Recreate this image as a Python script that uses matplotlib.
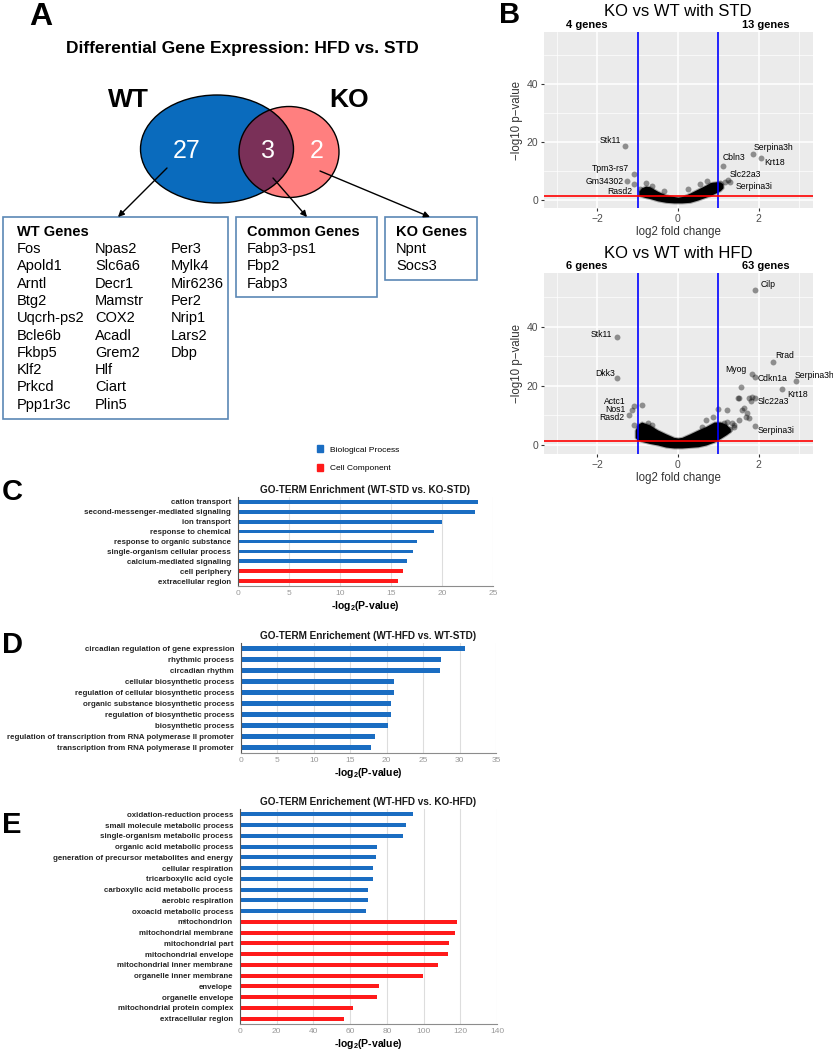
import matplotlib
matplotlib.use('Agg')
import matplotlib.pyplot as plt
from matplotlib.patches import Ellipse, Rectangle, Patch
import numpy as np

W, H = 833, 1050
plt.rcParams['font.family'] = ['Liberation Sans', 'DejaVu Sans']
plt.rcParams['mathtext.fontset'] = 'custom'
plt.rcParams['mathtext.rm'] = 'Liberation Sans'
plt.rcParams['mathtext.bf'] = 'Liberation Sans:bold'

# ---------------- data ----------------
# panel A: venn counts and gene lists
wt_only_n, common_n, ko_only_n = 27, 3, 2
wt_genes = ['Fos', 'Apold1', 'Arntl', 'Btg2', 'Uqcrh-ps2', 'Bcle6b', 'Fkbp5', 'Klf2', 'Prkcd', 'Ppp1r3c',
            'Npas2', 'Slc6a6', 'Decr1', 'Mamstr', 'COX2', 'Acadl', 'Grem2', 'Hlf', 'Ciart', 'Plin5',
            'Per3', 'Mylk4', 'Mir6236', 'Per2', 'Nrip1', 'Lars2', 'Dbp']
common_genes = ['Fabp3-ps1', 'Fbp2', 'Fabp3']
ko_genes = ['Npnt', 'Socs3']

# panel B: volcano plots (labelled genes, extra visible points, dense cloud outline)
std_n_down, std_n_up = 4, 13
std_names = ['Stk11', 'Tpm3-rs7', 'Gm34302', 'Rasd2', 'Cbln3', 'Serpina3h', 'Krt18', 'Slc22a3', 'Serpina3i']
std_lfc = [-1.30, -1.10, -1.25, -0.93, 1.12, 1.85, 2.05, 1.25, 1.30]
std_p = [18.6, 9.0, 6.5, 3.8, 11.8, 15.8, 14.4, 6.9, 6.1]
std_extra_lfc = [-1.08, -0.78, -0.63, 0.25, 0.55, 0.72, 0.88, 1.05, 1.18, -0.35]
std_extra_p = [5.5, 5.8, 4.8, 3.8, 5.5, 6.6, 5.2, 5.9, 6.2, 3.0]
std_cloud_x = [-0.97, -0.9, -0.8, -0.7, -0.5, -0.3, -0.1, 0.0, 0.1, 0.3, 0.5, 0.7, 0.8, 0.95, 1.05, 1.12]
std_cloud_top = [3.0, 4.2, 4.8, 4.6, 3.0, 1.8, 1.2, 1.0, 1.2, 2.4, 3.8, 5.2, 6.0, 6.3, 6.2, 5.5]
std_cloud_bot = [1.6, 1.2, 0.8, 0.5, -0.3, -0.8, -1.0, -1.0, -1.0, -0.8, 0.0, 1.0, 1.5, 2.5, 3.2, 4.2]

hfd_n_down, hfd_n_up = 6, 63
hfd_names = ['Cilp', 'Stk11', 'Dkk3', 'Actc1', 'Nos1', 'Rasd2', 'Rrad', 'Myog', 'Cdkn1a',
             'Serpina3h', 'Krt18', 'Slc22a3', 'Serpina3i']
hfd_lfc = [1.91, -1.52, -1.50, -1.08, -1.13, -1.20, 2.35, 1.84, 1.91, 2.94, 2.57, 1.91, 1.91]
hfd_p = [52.5, 36.6, 22.7, 13.2, 11.9, 10.2, 28.1, 24.1, 23.1, 21.7, 19.0, 16.0, 6.4]
hfd_extra_lfc = [-0.88, -1.10, -0.74, -0.64, 1.57, 1.52, 1.50, 1.84, 1.76, 1.81, 1.00, 1.22, 1.64,
                 1.60, 1.72, 1.76, 1.69, 1.22, 1.40, 1.52, 0.86, 0.70, 0.95, 1.15, 1.35, 1.38, 1.30, 0.60]
hfd_extra_p = [13.6, 6.8, 7.5, 6.8, 19.7, 16.0, 16.1, 16.3, 16.0, 15.0, 12.2, 11.9, 12.5,
               11.9, 10.8, 9.2, 9.5, 7.8, 6.8, 8.5, 9.5, 8.5, 5.8, 7.5, 7.5, 6.0, 5.5, 6.0]
hfd_cloud_x = [-1.06, -1.0, -0.9, -0.7, -0.5, -0.3, -0.1, 0.0, 0.1, 0.3, 0.5, 0.7, 0.9, 1.05, 1.2, 1.3]
hfd_cloud_top = [5.0, 7.0, 7.8, 6.8, 5.1, 3.8, 2.6, 2.4, 2.6, 3.8, 5.1, 6.3, 7.8, 7.8, 7.0, 5.5]
hfd_cloud_bot = [2.5, 1.8, 1.2, 0.5, 0.0, -0.7, -1.0, -1.0, -1.0, -0.8, -0.6, 0.0, 1.0, 2.2, 3.5, 4.5]

# panels C-E: GO terms
c_terms = ['cation transport', 'second-messenger-mediated signaling', 'ion transport',
           'response to chemical', 'response to organic substance', 'single-organism cellular process',
           'calcium-mediated signaling', 'cell periphery', 'extracellular region']
c_vals = [23.5, 23.2, 20.0, 19.2, 17.5, 17.2, 16.6, 16.2, 15.7]
c_kind = ['BP'] * 7 + ['CC'] * 2

d_terms = ['circadian regulation of gene expression', 'rhythmic process', 'circadian rhythm',
           'cellular biosynthetic process', 'regulation of cellular biosynthetic process',
           'organic substance biosynthetic process', 'regulation of biosynthetic process',
           'biosynthetic process', 'regulation of transcription from RNA polymerase II promoter',
           'transcription from RNA polymerase II promoter']
d_vals = [30.7, 27.4, 27.3, 21.0, 21.0, 20.6, 20.6, 20.2, 18.4, 17.8]
d_kind = ['BP'] * 10

e_terms = ['oxidation-reduction process', 'small molecule metabolic process',
           'single-organism metabolic process', 'organic acid metabolic process',
           'generation of precursor metabolites and energy', 'cellular respiration',
           'tricarboxylic acid cycle', 'carboxylic acid metabolic process', 'aerobic respiration',
           'oxoacid metabolic process', 'mitochondrion', 'mitochondrial membrane', 'mitochondrial part',
           'mitochondrial envelope', 'mitochondrial inner membrane', 'organelle inner membrane',
           'envelope', 'organelle envelope', 'mitochondrial protein complex', 'extracellular region']
e_vals = [94.5, 90.5, 88.7, 74.5, 74.2, 72.4, 72.2, 69.5, 69.5, 68.5,
          118.2, 117.0, 113.6, 113.3, 107.6, 99.5, 75.6, 74.5, 61.5, 56.4]
e_kind = ['BP'] * 10 + ['CC'] * 10

go_colors = {'BP': '#1a6dc2', 'CC': '#ff1a1a'}


def px_rect(x0, y0, x1, y1):
    return [x0 / W, 1 - y1 / H, (x1 - x0) / W, (y1 - y0) / H]


fig = plt.figure(figsize=(W / 100, H / 100), dpi=100)

# ---------------- panel A ----------------
axA = fig.add_axes([0, 1 - 440 / H, 500 / W, 440 / H])
axA.set_xlim(0, 500)
axA.set_ylim(440, 0)
axA.axis('off')
axA.text(29, 2, 'A', fontsize=23, fontweight='bold', va='top')
axA.text(242, 48, 'Differential Gene Expression: HFD vs. STD', fontsize=12.5, fontweight='bold',
         ha='center', va='center')
wt_e = Ellipse((217, 149), 153, 108, facecolor='#0a6bbd', edgecolor='none')
ko_e = Ellipse((289, 152), 100, 91, facecolor='#ff7f7f', edgecolor='none')
axA.add_patch(wt_e)
axA.add_patch(ko_e)
ov = Ellipse((289, 152), 100, 91, facecolor='#7a3058', edgecolor='none')
axA.add_patch(ov)
ov.set_clip_path(wt_e)
axA.add_patch(Ellipse((217, 149), 153, 108, fill=False, edgecolor='black', lw=1))
axA.add_patch(Ellipse((289, 152), 100, 91, fill=False, edgecolor='black', lw=1))
axA.text(128, 100, 'WT', fontsize=19, fontweight='bold', ha='center', va='center')
axA.text(349, 100, 'KO', fontsize=19, fontweight='bold', ha='center', va='center')
for xx, n in zip([187, 268, 317], [wt_only_n, common_n, ko_only_n]):
    axA.text(xx, 151, str(n), fontsize=18, color='white', ha='center', va='center')

arrow = dict(arrowstyle='-|>', color='black', lw=1, mutation_scale=9, shrinkA=0, shrinkB=0)
axA.annotate('', xy=(118, 217), xytext=(167, 168), arrowprops=arrow)
axA.annotate('', xy=(307, 217), xytext=(273, 178), arrowprops=arrow)
axA.annotate('', xy=(430, 217), xytext=(320, 171), arrowprops=arrow)

box_c = '#5b87b5'
axA.add_patch(Rectangle((3, 217), 225, 202, fill=False, edgecolor=box_c, lw=1.2))
axA.add_patch(Rectangle((236, 217), 141, 80, fill=False, edgecolor=box_c, lw=1.2))
axA.add_patch(Rectangle((385, 217), 92, 63, fill=False, edgecolor=box_c, lw=1.2))

row_h = 17.3
axA.text(17, 232, 'WT Genes', fontsize=10.5, fontweight='bold', va='center')
for i, g in enumerate(wt_genes):
    col, row = divmod(i, 10)
    axA.text([17, 95, 171][col], 249 + row * row_h, g, fontsize=10.5, va='center')
axA.text(247, 232, 'Common Genes', fontsize=10.5, fontweight='bold', va='center')
for i, g in enumerate(common_genes):
    axA.text(247, 249 + i * row_h, g, fontsize=10.5, va='center')
axA.text(396, 232, 'KO Genes', fontsize=10.5, fontweight='bold', va='center')
for i, g in enumerate(ko_genes):
    axA.text(396, 249 + i * row_h, g, fontsize=10.5, va='center')

# ---------------- panel B ----------------
fig.text(499 / W, 1 - 1 / H, 'B', fontsize=21, fontweight='bold', va='top')

std_offsets = [(-3, 4, 'right'), (-3, 4, 'right'), (-3, 0, 'right'), (-6, -2, 'right'),
               (0, 6, 'left'), (1, 5, 'left'), (3, -3, 'left'), (1, 4, 'left'), (4, -3, 'left')]
hfd_offsets = [(4, 4, 'left'), (-3, 2, 'right'), (-2, 3, 'right'), (-6, 3, 'right'), (-5, 0, 'right'),
               (-4, -2, 'right'), (2, 5, 'left'), (-4, 3, 'right'), (2, -1, 'left'), (-1, 4, 'left'),
               (4, -4, 'left'), (2, -2.5, 'left'), (2, -3, 'left')]


def volcano(rect, ylim, title, title_y, n_down, n_up, cx, ctop, cbot, ex, ey,
            names, lx, ly, offsets):
    ax = fig.add_axes(px_rect(*rect))
    ax.set_facecolor('#EBEBEB')
    for v in [-3, -1, 1, 3]:
        ax.axvline(v, color='white', lw=0.5, zorder=0)
    for v in [10, 30, 50]:
        ax.axhline(v, color='white', lw=0.5, zorder=0)
    for v in [-2, 0, 2]:
        ax.axvline(v, color='white', lw=1.1, zorder=0)
    for v in [0, 20, 40]:
        ax.axhline(v, color='white', lw=1.1, zorder=0)
    # dense cloud of non-significant genes, with a soft translucent rim
    ax.fill_between(cx, cbot, ctop, facecolor='black', edgecolor=(0, 0, 0, 0.3), lw=1.5, zorder=2)
    ax.scatter(ex, ey, s=18, color='black', alpha=0.4, lw=0, zorder=2)
    ax.scatter(lx, ly, s=18, color='black', alpha=0.4, lw=0, zorder=2)
    for n, x, y, (dx, dy, ha) in zip(names, lx, ly, offsets):
        ax.annotate(n, (x, y), xytext=(dx, dy), textcoords='offset points', fontsize=6.2,
                    ha=ha, va='center', annotation_clip=False, zorder=4)
    ax.axvline(-1, color='blue', lw=1.2, zorder=3)
    ax.axvline(1, color='blue', lw=1.2, zorder=3)
    ax.axhline(-np.log10(0.05), color='red', lw=1.2, zorder=3)
    ax.set_xlim(-3.32, 3.35)
    ax.set_ylim(*ylim)
    ax.set_xticks([-2, 0, 2], ['\u22122', '0', '2'])
    ax.set_yticks([0, 20, 40])
    for s in ax.spines.values():
        s.set_visible(False)
    ax.tick_params(length=2.5, width=0.8, color='#333333', labelsize=7.5, labelcolor='#4d4d4d', pad=1.5)
    ax.set_xlabel('log2 fold change', fontsize=8.3, color='#333333', labelpad=2)
    ax.set_ylabel('\u2212log10 p\u2212value', fontsize=8.3, color='#333333', labelpad=3)
    fig.text(678 / W, 1 - title_y / H, title, fontsize=12, ha='center', va='center')
    ax.annotate(f'{n_down} genes', (-2.25, 1), xycoords=('data', 'axes fraction'), xytext=(0, 5),
                textcoords='offset points', fontsize=8, fontweight='bold', ha='center', va='center')
    ax.annotate(f'{n_up} genes', (2.18, 1), xycoords=('data', 'axes fraction'), xytext=(0, 5),
                textcoords='offset points', fontsize=8, fontweight='bold', ha='center', va='center')
    return ax


volcano((544, 32, 813, 208), (-2.76, 57.9), 'KO vs WT with STD', 11, std_n_down, std_n_up,
        std_cloud_x, std_cloud_top, std_cloud_bot, std_extra_lfc, std_extra_p,
        std_names, std_lfc, std_p, std_offsets)
volcano((544, 273, 813, 454), (-3.05, 58.3), 'KO vs WT with HFD', 253, hfd_n_down, hfd_n_up,
        hfd_cloud_x, hfd_cloud_top, hfd_cloud_bot, hfd_extra_lfc, hfd_extra_p,
        hfd_names, hfd_lfc, hfd_p, hfd_offsets)

# ---------------- panels C-E ----------------
fig.legend([Patch(color=go_colors['BP']), Patch(color=go_colors['CC'])],
           ['Biological Process', 'Cell Component'], loc='upper left',
           bbox_to_anchor=(309 / W, 1 - 438 / H), frameon=False, fontsize=6,
           handlelength=0.8, handleheight=0.8, labelspacing=1.3, handletextpad=0.8)


def go_panel(rect, terms, vals, kinds, xmax, step, title, letter, letter_y):
    ax = fig.add_axes(px_rect(*rect))
    y = np.arange(len(terms))
    ax.barh(y, vals, height=0.38, color=[go_colors[k] for k in kinds], zorder=2)
    ax.set_ylim(len(terms) - 0.5, -0.5)
    ax.set_xlim(0, xmax)
    ax.set_xticks(np.arange(0, xmax + 1, step))
    ax.set_yticks(y, terms, fontsize=5.7, fontweight='bold', color='#262626')
    ax.tick_params(axis='y', length=0, pad=5)
    ax.tick_params(axis='x', length=0, labelsize=6, labelcolor='#999999', pad=3)
    ax.grid(axis='x', color='#dddddd', lw=0.8, zorder=0)
    ax.set_axisbelow(True)
    ax.spines['top'].set_visible(False)
    ax.spines['right'].set_visible(False)
    ax.spines['left'].set_color('#555555')
    ax.spines['bottom'].set_color('#8c8c8c')
    ax.set_title(title, fontsize=7.2, fontweight='bold', pad=3, color='#1a1a1a')
    ax.set_xlabel(r'-log$_\mathbf{2}$(P-value)', fontsize=7.5, fontweight='bold', labelpad=1)
    fig.text(2 / W, 1 - letter_y / H, letter, fontsize=21, fontweight='bold', va='center')


go_panel((238, 497, 493, 586), c_terms, c_vals, c_kind, 25, 5,
         'GO-TERM Enrichment (WT-STD vs. KO-STD)', 'C', 492)
go_panel((241, 643, 496, 753), d_terms, d_vals, d_kind, 35, 5,
         'GO-TERM Enrichement (WT-HFD vs. WT-STD)', 'D', 645)
go_panel((240, 809, 497, 1024), e_terms, e_vals, e_kind, 140, 20,
         'GO-TERM Enrichement (WT-HFD vs. KO-HFD)', 'E', 825)

fig.savefig('out.png', dpi=100)
